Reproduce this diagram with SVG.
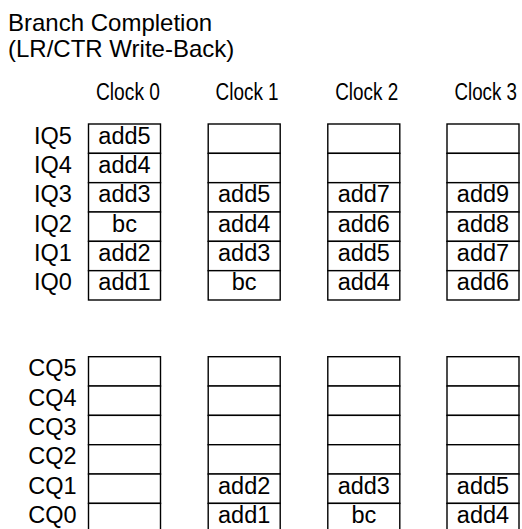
<svg xmlns="http://www.w3.org/2000/svg" width="522" height="529" viewBox="0 0 522 529">
<style>
text{font-family:"Liberation Sans",Arial,sans-serif;font-size:23.5px;fill:#000}
.t{font-size:24px}
.c{text-anchor:middle}
.clk{font-size:23px}
rect{fill:#fff;stroke:#000;stroke-width:1.4}
</style>
<rect x="0" y="0" width="522" height="529" style="stroke:none"/>
<g id="title">
<text class="t" x="8" y="30.7">Branch Completion</text>
<text class="t" x="8" y="56.7">(LR/CTR Write-Back)</text>
</g>
<g id="clock-labels">
<text class="clk" x="96" y="100" textLength="64" lengthAdjust="spacingAndGlyphs">Clock 0</text>
<text class="clk" x="215.6" y="100" textLength="63" lengthAdjust="spacingAndGlyphs">Clock 1</text>
<text class="clk" x="335.2" y="100" textLength="63" lengthAdjust="spacingAndGlyphs">Clock 2</text>
<text class="clk" x="454.5" y="100" textLength="62.5" lengthAdjust="spacingAndGlyphs">Clock 3</text>
</g>
<g id="row-labels">
<text class="c" x="53" y="143.5">IQ5</text>
<text class="c" x="53" y="172.8">IQ4</text>
<text class="c" x="53" y="202.2">IQ3</text>
<text class="c" x="53" y="231.5">IQ2</text>
<text class="c" x="53" y="260.8">IQ1</text>
<text class="c" x="53" y="290.2">IQ0</text>
<text class="c" x="52.5" y="376.2">CQ5</text>
<text class="c" x="52.5" y="405.5">CQ4</text>
<text class="c" x="52.5" y="434.8">CQ3</text>
<text class="c" x="52.5" y="464.2">CQ2</text>
<text class="c" x="52.5" y="493.5">CQ1</text>
<text class="c" x="52.5" y="522.8">CQ0</text>
</g>
<g id="iq-clock0">
<rect x="88.5" y="124" width="72" height="29.33"/>
<rect x="88.5" y="153.33" width="72" height="29.33"/>
<rect x="88.5" y="182.67" width="72" height="29.33"/>
<rect x="88.5" y="212" width="72" height="29.33"/>
<rect x="88.5" y="241.33" width="72" height="29.33"/>
<rect x="88.5" y="270.67" width="72" height="29.33"/>
<text class="c" x="124.5" y="143.5">add5</text>
<text class="c" x="124.5" y="172.8">add4</text>
<text class="c" x="124.5" y="202.2">add3</text>
<text class="c" x="124.5" y="231.5">bc</text>
<text class="c" x="124.5" y="260.8">add2</text>
<text class="c" x="124.5" y="290.2">add1</text>
</g>
<g id="iq-clock1">
<rect x="208.2" y="124" width="72" height="29.33"/>
<rect x="208.2" y="153.33" width="72" height="29.33"/>
<rect x="208.2" y="182.67" width="72" height="29.33"/>
<rect x="208.2" y="212" width="72" height="29.33"/>
<rect x="208.2" y="241.33" width="72" height="29.33"/>
<rect x="208.2" y="270.67" width="72" height="29.33"/>
<text class="c" x="244.2" y="202.2">add5</text>
<text class="c" x="244.2" y="231.5">add4</text>
<text class="c" x="244.2" y="260.8">add3</text>
<text class="c" x="244.2" y="290.2">bc</text>
</g>
<g id="iq-clock2">
<rect x="327.8" y="124" width="72" height="29.33"/>
<rect x="327.8" y="153.33" width="72" height="29.33"/>
<rect x="327.8" y="182.67" width="72" height="29.33"/>
<rect x="327.8" y="212" width="72" height="29.33"/>
<rect x="327.8" y="241.33" width="72" height="29.33"/>
<rect x="327.8" y="270.67" width="72" height="29.33"/>
<text class="c" x="363.8" y="202.2">add7</text>
<text class="c" x="363.8" y="231.5">add6</text>
<text class="c" x="363.8" y="260.8">add5</text>
<text class="c" x="363.8" y="290.2">add4</text>
</g>
<g id="iq-clock3">
<rect x="447" y="124" width="72" height="29.33"/>
<rect x="447" y="153.33" width="72" height="29.33"/>
<rect x="447" y="182.67" width="72" height="29.33"/>
<rect x="447" y="212" width="72" height="29.33"/>
<rect x="447" y="241.33" width="72" height="29.33"/>
<rect x="447" y="270.67" width="72" height="29.33"/>
<text class="c" x="483" y="202.2">add9</text>
<text class="c" x="483" y="231.5">add8</text>
<text class="c" x="483" y="260.8">add7</text>
<text class="c" x="483" y="290.2">add6</text>
</g>
<g id="cq-clock0">
<rect x="88.5" y="356.7" width="72" height="29.33"/>
<rect x="88.5" y="386.03" width="72" height="29.33"/>
<rect x="88.5" y="415.37" width="72" height="29.33"/>
<rect x="88.5" y="444.7" width="72" height="29.33"/>
<rect x="88.5" y="474.03" width="72" height="29.33"/>
<rect x="88.5" y="503.37" width="72" height="29.33"/>
</g>
<g id="cq-clock1">
<rect x="208.2" y="356.7" width="72" height="29.33"/>
<rect x="208.2" y="386.03" width="72" height="29.33"/>
<rect x="208.2" y="415.37" width="72" height="29.33"/>
<rect x="208.2" y="444.7" width="72" height="29.33"/>
<rect x="208.2" y="474.03" width="72" height="29.33"/>
<rect x="208.2" y="503.37" width="72" height="29.33"/>
<text class="c" x="244.2" y="493.5">add2</text>
<text class="c" x="244.2" y="522.8">add1</text>
</g>
<g id="cq-clock2">
<rect x="327.8" y="356.7" width="72" height="29.33"/>
<rect x="327.8" y="386.03" width="72" height="29.33"/>
<rect x="327.8" y="415.37" width="72" height="29.33"/>
<rect x="327.8" y="444.7" width="72" height="29.33"/>
<rect x="327.8" y="474.03" width="72" height="29.33"/>
<rect x="327.8" y="503.37" width="72" height="29.33"/>
<text class="c" x="363.8" y="493.5">add3</text>
<text class="c" x="363.8" y="522.8">bc</text>
</g>
<g id="cq-clock3">
<rect x="447" y="356.7" width="72" height="29.33"/>
<rect x="447" y="386.03" width="72" height="29.33"/>
<rect x="447" y="415.37" width="72" height="29.33"/>
<rect x="447" y="444.7" width="72" height="29.33"/>
<rect x="447" y="474.03" width="72" height="29.33"/>
<rect x="447" y="503.37" width="72" height="29.33"/>
<text class="c" x="483" y="493.5">add5</text>
<text class="c" x="483" y="522.8">add4</text>
</g>
<g id="connectors"/>
</svg>
